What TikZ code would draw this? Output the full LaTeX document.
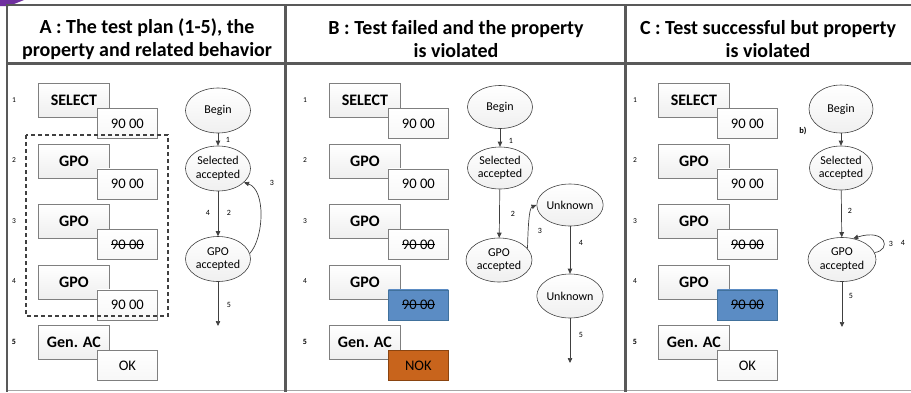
\documentclass[tikz,border=0pt]{standalone}
\usepackage{fontspec}
\setmainfont{Carlito}
\usetikzlibrary{shapes.geometric,arrows.meta}

% struck-through response text
\newsavebox\strikebox
\newcommand\strk[1]{\sbox\strikebox{#1}\rlap{\usebox\strikebox}\rule[0.32em]{\wd\strikebox}{0.6pt}}

\definecolor{rulegray}{HTML}{595959}
\definecolor{basegray}{HTML}{A6A6A6}
\definecolor{boxline}{HTML}{7F7F7F}
\definecolor{stateline}{HTML}{404040}
\definecolor{errblue}{HTML}{5B8CC4}
\definecolor{errblueline}{HTML}{41719C}
\definecolor{nokorange}{HTML}{C8641C}
\definecolor{nokline}{HTML}{8A4410}
\definecolor{accent}{HTML}{7030A0}

\tikzset{
  x=1pt, y=-1pt,
  tablerule/.style={draw=rulegray, line width=2.2pt},
  header/.style={font=\fontsize{20}{23}\selectfont\bfseries, align=center, inner sep=0pt},
  stepnum/.style={font=\fontsize{7.5}{8}\selectfont, inner sep=0pt},
  laststep/.style={stepnum, font=\fontsize{8}{8}\selectfont\bfseries},
  cmdbox/.style={draw=boxline, line width=0.8pt, top color=white, bottom color=gray!13,
    minimum width=71pt, minimum height=34pt, inner sep=0pt, anchor=north west,
    font=\fontsize{16}{16}\selectfont\bfseries},
  respbox/.style={draw=boxline, line width=0.8pt, top color=white, bottom color=gray!6,
    minimum width=60pt, minimum height=30pt, inner sep=0pt, anchor=north west,
    font=\fontsize{14.6}{15}\selectfont},
  bluebox/.style={respbox, draw=errblueline, top color=errblue, bottom color=errblue},
  nokbox/.style={respbox, draw=nokline, top color=nokorange, bottom color=nokorange},
  planframe/.style={draw=stateline, line width=2pt, dash pattern=on 4pt off 3pt},
  state/.style={ellipse, draw=stateline, line width=0.6pt, top color=white, bottom color=gray!12,
    minimum width=65pt, minimum height=45pt, inner sep=0pt, align=center,
    font=\fontsize{12}{13.5}\selectfont},
  flow/.style={draw=stateline, line width=0.7pt, -{Triangle[length=5pt,width=4.5pt]}},
  elabel/.style={font=\fontsize{8}{8}\selectfont, inner sep=0pt},
}

\begin{document}
\begin{tikzpicture}
\useasboundingbox (0,0) rectangle (911,392);

% corner mark
\fill[accent] (0,0) -- (24,0) -- (9,6) -- (0,6) -- cycle;

% table rules
\draw[basegray, line width=1.6pt] (7,390.5) -- (911,390.5);
\draw[tablerule] (7,5) -- (911,5);
\draw[tablerule] (7,63.5) -- (911,63.5);
\draw[tablerule] (7,4) -- (7,391.5);
\draw[tablerule] (285.5,4) -- (285.5,391.5);
\draw[tablerule] (625.5,4) -- (625.5,391.5);

% headers
\node[header] (hA) at (147,39) {A : The test plan (1-5), the\\property and related behavior};
\node[header] (hB) at (456,39) {B : Test failed and the property\\is violated};
\node[header] (hC) at (768,39) {C : Test successful but property\\is violated};

% ---------- test plans ----------
% panel A
\node[stepnum] (An1) at (14,100) {1};
\node[stepnum] (An2) at (14,160.5) {2};
\node[stepnum] (An3) at (14,221) {3};
\node[stepnum] (An4) at (14,281.5) {4};
\node[laststep] (An5) at (14,342) {5};
\node[cmdbox] (Ac1) at (38,83) {SELECT};
\node[respbox] (Ar1) at (97,108) {90 00};
\node[cmdbox] (Ac2) at (38,143.5) {GPO};
\node[respbox] (Ar2) at (97,168.5) {90 00};
\node[cmdbox] (Ac3) at (38,204) {GPO};
\node[respbox] (Ar3) at (97,229) {\strk{90 00}};
\node[cmdbox] (Ac4) at (38,264.5) {GPO};
\node[respbox] (Ar4) at (97,289.5) {90 00};
\node[cmdbox] (Ac5) at (38,325) {Gen. AC};
\node[respbox] (Ar5) at (97,350) {OK};
\draw[planframe] (26,135) rectangle (168,316);

% panel B
\node[stepnum] (Bn1) at (305,100) {1};
\node[stepnum] (Bn2) at (305,160.5) {2};
\node[stepnum] (Bn3) at (305,221) {3};
\node[stepnum] (Bn4) at (305,281.5) {4};
\node[laststep] (Bn5) at (305,342) {5};
\node[cmdbox] (Bc1) at (329,83) {SELECT};
\node[respbox] (Br1) at (388,108) {90 00};
\node[cmdbox] (Bc2) at (329,143.5) {GPO};
\node[respbox] (Br2) at (388,168.5) {90 00};
\node[cmdbox] (Bc3) at (329,204) {GPO};
\node[respbox] (Br3) at (388,229) {\strk{90 00}};
\node[cmdbox] (Bc4) at (329,264.5) {GPO};
\node[bluebox] (Br4) at (388,289.5) {\strk{90 00}};
\node[cmdbox] (Bc5) at (329,325) {Gen. AC};
\node[nokbox] (Br5) at (388,350) {NOK};

% panel C
\node[stepnum] (Cn1) at (635,100) {1};
\node[stepnum] (Cn2) at (635,160.5) {2};
\node[stepnum] (Cn3) at (635,221) {3};
\node[stepnum] (Cn4) at (635,281.5) {4};
\node[laststep] (Cn5) at (635,342) {5};
\node[cmdbox] (Cc1) at (658,83) {SELECT};
\node[respbox] (Cr1) at (717,108) {90 00};
\node[cmdbox] (Cc2) at (658,143.5) {GPO};
\node[respbox] (Cr2) at (717,168.5) {90 00};
\node[cmdbox] (Cc3) at (658,204) {GPO};
\node[respbox] (Cr3) at (717,229) {\strk{90 00}};
\node[cmdbox] (Cc4) at (658,264.5) {GPO};
\node[bluebox] (Cr4) at (717,289.5) {\strk{90 00}};
\node[cmdbox] (Cc5) at (658,325) {Gen. AC};
\node[respbox] (Cr5) at (717,350) {OK};

% ---------- property automata ----------
% panel A
\node[state] (Abegin) at (218,110.5) {Begin};
\node[state] (Asel) at (218,168.5) {Selected\\accepted};
\node[state] (Agpo) at (218,259) {GPO\\accepted};
\coordinate (Aend) at (218,326);
\draw[flow] (Abegin) -- (Asel);
\draw[flow] (Asel) -- (Agpo);
\draw[flow] (Agpo.10) .. controls (264,238) and (266,190) .. (Asel.-28);
\draw[flow] (Agpo) -- (Aend);
\node[elabel] (Al1) at (228,140) {1};
\node[elabel] (Al4) at (208,213) {4};
\node[elabel] (Al2) at (229,213) {2};
\node[elabel] (Al3) at (272,183) {3};
\node[elabel] (Al5) at (229,305) {5};

% panel B
\node[state, minimum height=43pt] (Bbegin) at (500,107) {Begin};
\node[state, minimum height=42pt] (Bsel) at (500,168) {Selected\\accepted};
\node[state, minimum width=66pt, minimum height=44pt] (Bgpo) at (499,260) {GPO\\accepted};
\node[state, minimum width=66pt, minimum height=42pt] (Bunk1) at (570,205) {Unknown};
\node[state, minimum width=66pt, minimum height=44pt] (Bunk2) at (570,296) {Unknown};
\coordinate (Bend) at (570,363);
\draw[flow] (Bbegin) -- (Bsel);
\draw[flow] (Bsel) -- (Bgpo);
\draw[flow] (Bgpo.22) .. controls (528,228) and (529,208) .. (Bunk1.west);
\draw[flow] (Bunk1) -- (Bunk2);
\draw[flow] (Bunk2) -- (Bend);
\node[elabel] (Bl1) at (511,141) {1};
\node[elabel] (Bl2) at (513,214) {2};
\node[elabel] (Bl3) at (540,231) {3};
\node[elabel] (Bl4) at (581,243) {4};
\node[elabel] (Bl5) at (581,335) {5};

% panel C
\node[state, minimum width=64pt, minimum height=48pt] (Cbegin) at (841,109) {Begin};
\node[state, minimum width=63pt, minimum height=44pt] (Csel) at (841,168) {Selected\\accepted};
\node[state, minimum width=68pt, minimum height=44pt] (Cgpo) at (842,259.5) {GPO\\accepted};
\coordinate (Cend) at (842,327);
\node[font=\fontsize{8.5}{9}\selectfont\bfseries, inner sep=0pt] (Cb) at (803,131) {b)};
\draw[flow] (Cbegin) -- (Csel);
\draw[flow] (Csel) -- (Cgpo);
\draw[flow] (Cgpo.12) .. controls (892,250) and (886,228) .. (Cgpo.62);
\draw[flow] (Cgpo) -- (Cend);
\node[elabel] (Cl2) at (850,211) {2};
\node[elabel] (Cl3) at (891,244) {3};
\node[elabel] (Cl4) at (903,243) {4};
\node[elabel] (Cl5) at (851,296) {5};
\end{tikzpicture}
\end{document}
